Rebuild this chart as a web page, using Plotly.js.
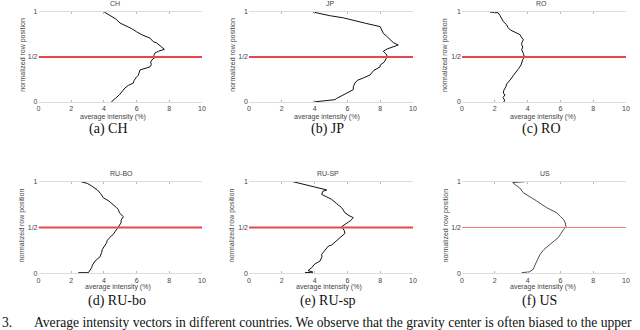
<!DOCTYPE html>
<html>
<head>
<meta charset="utf-8">
<script src="https://cdn.plot.ly/plotly-3.0.1.min.js"></script>
<style>
  html, body { margin: 0; padding: 0; background: #fff; }
  #chart { width: 640px; height: 330px; }
</style>
</head>
<body>
<div id="chart"></div>
<script>
// average intensity (%) vs normalized row position
const chY = [1.0, 0.96, 0.92, 0.878, 0.85, 0.815, 0.78, 0.745, 0.71, 0.67, 0.656, 0.62, 0.585, 0.565, 0.545, 0.52, 0.497, 0.47, 0.444, 0.415, 0.39, 0.356, 0.322, 0.295, 0.267, 0.24, 0.211, 0.185, 0.156, 0.12, 0.08, 0.04, 0.0];
const chX = [4.02, 4.4, 4.75, 4.98, 5.35, 5.7, 6.0, 6.35, 6.82, 7.02, 7.23, 7.45, 7.70, 7.35, 7.13, 7.05, 7.13, 6.95, 6.86, 6.9, 6.82, 6.21, 6.15, 6.1, 5.95, 5.85, 5.8, 5.5, 5.29, 5.15, 4.95, 4.7, 4.45];

const jpY = [1.0, 0.96, 0.935, 0.915, 0.875, 0.837, 0.8, 0.763, 0.73, 0.692, 0.66, 0.633, 0.614, 0.59, 0.563, 0.535, 0.508, 0.486, 0.46, 0.444, 0.41, 0.39, 0.35, 0.322, 0.3, 0.267, 0.24, 0.211, 0.17, 0.137, 0.1, 0.074, 0.04, 0.026, 0.0];
const jpX = [3.9, 4.9, 5.75, 6.16, 7.1, 8.0, 8.1, 8.19, 8.4, 8.6, 8.8, 9.1, 8.76, 8.43, 8.19, 8.35, 8.43, 8.35, 8.3, 8.25, 8.0, 7.99, 7.6, 7.45, 7.38, 6.97, 6.6, 6.46, 6.36, 6.36, 5.95, 5.75, 5.35, 5.24, 3.92];

const roY = [1.0, 0.99, 0.96, 0.933, 0.893, 0.859, 0.83, 0.8, 0.77, 0.748, 0.726, 0.692, 0.66, 0.637, 0.61, 0.581, 0.541, 0.497, 0.47, 0.44, 0.411, 0.37, 0.337, 0.3, 0.244, 0.2, 0.17, 0.13, 0.1, 0.078, 0.05, 0.02, 0.0];
const roX = [1.7, 2.21, 2.32, 2.42, 2.52, 2.72, 2.8, 2.95, 3.3, 3.54, 3.6, 3.74, 3.65, 3.64, 3.7, 3.64, 3.74, 3.8, 3.7, 3.64, 3.6, 3.45, 3.33, 3.15, 2.93, 2.72, 2.68, 2.55, 2.52, 2.62, 2.5, 2.6, 2.55];

const ruBoY = [1.0, 0.98, 0.953, 0.91, 0.87, 0.825, 0.79, 0.753, 0.72, 0.698, 0.66, 0.618, 0.6, 0.58, 0.552, 0.527, 0.5, 0.487, 0.46, 0.425, 0.39, 0.357, 0.334, 0.3, 0.26, 0.225, 0.18, 0.134, 0.09, 0.061, 0.025, 0.007, 0.007];
const ruBoX = [2.6, 3.0, 3.25, 3.6, 3.8, 3.96, 4.3, 4.57, 4.75, 4.88, 4.95, 5.19, 5.1, 5.05, 5.05, 4.98, 4.9, 4.82, 4.7, 4.57, 4.35, 4.2, 4.17, 4.05, 3.9, 3.86, 3.76, 3.46, 3.3, 3.25, 3.11, 3.05, 2.44];

const ruSpY = [1.0, 0.97, 0.953, 0.928, 0.91, 0.895, 0.862, 0.818, 0.807, 0.76, 0.716, 0.69, 0.661, 0.63, 0.607, 0.596, 0.575, 0.559, 0.545, 0.509, 0.497, 0.47, 0.436, 0.4, 0.37, 0.309, 0.297, 0.25, 0.207, 0.18, 0.134, 0.1, 0.061, 0.03, 0.012, 0.007];
const ruSpX = [2.68, 3.4, 3.92, 4.33, 4.74, 4.5, 4.43, 4.94, 5.04, 5.35, 5.65, 5.75, 5.85, 6.1, 6.36, 6.3, 6.2, 6.06, 5.96, 5.65, 5.7, 5.8, 5.85, 5.6, 5.45, 5.04, 4.84, 4.6, 4.43, 4.45, 4.33, 4.0, 3.82, 3.6, 3.9, 3.41];

const usY = [1.0, 0.99, 0.96, 0.934, 0.88, 0.83, 0.79, 0.717, 0.661, 0.62, 0.59, 0.55, 0.509, 0.48, 0.443, 0.389, 0.35, 0.316, 0.26, 0.207, 0.17, 0.134, 0.09, 0.044, 0.015, 0.007];
const usX = [3.84, 3.09, 3.3, 3.51, 3.74, 4.15, 4.55, 5.16, 5.77, 6.0, 6.18, 6.3, 6.34, 6.2, 6.08, 5.87, 5.6, 5.37, 5.0, 4.76, 4.65, 4.55, 4.45, 4.35, 4.1, 3.64];

const panelTitles = ['CH', 'JP', 'RO', 'RU-BO', 'RU-SP', 'US'];
const captions = ['(a) CH', '(b) JP', '(c) RO', '(d) RU-bo', '(e) RU-sp', '(f) US'];
const xTicks = [0, 2, 4, 6, 8, 10];
const yTicks = [0, 0.5, 1];
const yTickText = ['0', '1/2', '1'];
const midRow = 0.5;
const figNum = '3.';
const figText = 'Average intensity vectors in different countries. We observe that the gravity center is often biased to the upper';

const series = [[chX, chY], [jpX, jpY], [roX, roY], [ruBoX, ruBoY], [ruSpX, ruSpY], [usX, usY]];

// pixel boxes of each panel (plot area), plus where its labels sit
const W = 640, H = 330;
const boxes = [
  { l: 38.5, r: 202, t: 12, b: 102, tx: 115, xt: 113, cap: 108, yt: 22.7 },
  { l: 249, r: 413, t: 12, b: 102, tx: 330, xt: 326.5, cap: 327.5, yt: 232.7 },
  { l: 462, r: 626, t: 12, b: 102, tx: 541.7, xt: 543, cap: 541.7, yt: 445 },
  { l: 38.5, r: 202, t: 181.7, b: 273.3, tx: 121, xt: 117.7, cap: 116.7, yt: 21.7 },
  { l: 249, r: 413, t: 181.7, b: 273.3, tx: 328.3, xt: 329, cap: 328.3, yt: 231.7 },
  { l: 462, r: 626, t: 181.7, b: 273.3, tx: 545, xt: 543, cap: 539, yt: 445 },
];
const px = (x) => x / W;
const py = (y) => 1 - y / H;

const small = { family: 'Liberation Sans, Arial, sans-serif', size: 7, color: '#444' };
const serif = { family: 'Liberation Serif, Times New Roman, serif', size: 14, color: '#111' };

const traces = [];
const shapes = [];
const annotations = [];
const layout = {
  width: W, height: H,
  margin: { l: 0, r: 0, t: 0, b: 0 },
  paper_bgcolor: '#fff', plot_bgcolor: '#fff',
  showlegend: false,
  font: small,
};

series.forEach(([xs, ys], i) => {
  const n = i === 0 ? '' : String(i + 1);
  const bx = boxes[i];
  const isUS = i === 5;
  traces.push({
    x: xs, y: ys, xaxis: 'x' + n, yaxis: 'y' + n,
    type: 'scatter', mode: 'lines',
    line: { color: isUS ? '#3a3a3a' : '#111', width: isUS ? 0.9 : 1 },
    hoverinfo: 'skip',
  });
  layout['xaxis' + n] = {
    domain: [px(bx.l), px(bx.r)], anchor: 'y' + n,
    range: [0, 10], tickvals: xTicks, ticks: 'inside', ticklen: 2, tickcolor: '#bbb',
    showline: true, linecolor: '#ddd', linewidth: 1, mirror: 'ticks',
    showgrid: false, zeroline: false, tickfont: small, automargin: false,
  };
  layout['yaxis' + n] = {
    domain: [py(bx.b), py(bx.t)], anchor: 'x' + n,
    range: [0, 1], tickvals: yTicks, ticktext: yTickText, ticks: '',
    showline: false, showgrid: false, zeroline: false, tickfont: small, automargin: false,
  };
  shapes.push({
    type: 'line', xref: 'x' + n, yref: 'y' + n, x0: 0, x1: 10, y0: midRow, y1: midRow,
    line: { color: isUS ? '#ef7b7b' : '#e5484a', width: isUS ? 1.2 : 1.8 },
  });
  const rowTop = bx.t < 100;
  annotations.push(
    { text: panelTitles[i], x: px(bx.tx), y: py(rowTop ? 3.5 : 174), xref: 'paper', yref: 'paper',
      xanchor: 'center', yanchor: 'middle', showarrow: false, font: small },
    { text: 'average intensity (%)', x: px(bx.xt), y: py(rowTop ? 117 : 287), xref: 'paper', yref: 'paper',
      xanchor: 'center', yanchor: 'middle', showarrow: false, font: small },
    { text: 'normalized row position', x: px(bx.yt), y: py((bx.t + bx.b) / 2 - 2), xref: 'paper', yref: 'paper',
      xanchor: 'center', yanchor: 'middle', textangle: -90, showarrow: false, font: small },
    { text: captions[i], x: px(bx.cap), y: py(rowTop ? 129 : 301), xref: 'paper', yref: 'paper',
      xanchor: 'center', yanchor: 'middle', showarrow: false, font: serif },
  );
});

// figure caption line at the bottom edge
const capFont = Object.assign({}, serif, { size: 13.6 });
annotations.push(
  { text: figNum, x: 0, y: py(322), xref: 'paper', yref: 'paper',
    xanchor: 'left', yanchor: 'middle', showarrow: false, font: capFont },
  { text: figText, x: px(32), y: py(322), xref: 'paper', yref: 'paper',
    xanchor: 'left', yanchor: 'middle', showarrow: false, font: capFont },
);

layout.shapes = shapes;
layout.annotations = annotations;

Plotly.newPlot('chart', traces, layout, { staticPlot: true, displayModeBar: false });
</script>
</body>
</html>
